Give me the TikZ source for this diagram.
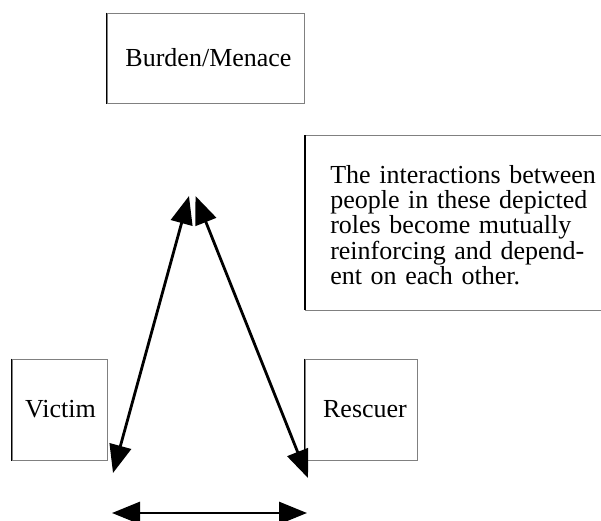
\documentclass[tikz,border=0pt]{standalone}
\usepackage{fontspec}
\setmainfont{Liberation Serif}
\usetikzlibrary{arrows.meta}
\definecolor{boxgray}{RGB}{128,128,128}
\begin{document}
\begin{tikzpicture}[x=0.75pt,y=-0.75pt,
  font=\fontsize{19.5}{19.1}\selectfont,
  rolebox/.style={draw=boxgray, line width=0.75pt, inner sep=0pt, align=center},
  leftedge/.style={draw=black, line width=0.9pt},
  arr/.style={line width=2.1pt, {Triangle[length=21pt,width=16.5pt]}-{Triangle[length=21pt,width=16.5pt]}}]
\useasboundingbox (0,0) rectangle (601,521);
% role boxes
\node[rolebox, minimum width=147.75pt, minimum height=67.5pt] (burden) at (205.5,58) {\hspace*{4.5pt}Burden/Menace};
\node[rolebox, minimum width=71.25pt, minimum height=75.75pt] (victim) at (59.5,409.5) {\hspace*{1.5pt}Victim};
\node[rolebox, minimum width=84pt, minimum height=75.75pt] (rescuer) at (361,409.5) {\hspace*{6pt}Rescuer};
\draw[leftedge] (burden.north west) -- (burden.south west);
\draw[leftedge] (victim.north west) -- (victim.south west);
\draw[leftedge] (rescuer.north west) -- (rescuer.south west);
% note box
\coordinate (ntl) at (305,135);
\coordinate (nbl) at (305,310);
\coordinate (ntr) at (601,135);
\coordinate (nbr) at (601,310);
\draw[draw=boxgray, line width=0.75pt] (ntl) -- (ntr);
\draw[draw=boxgray, line width=0.75pt] (nbl) -- (nbr);
\draw[leftedge] (ntl) -- (nbl);
\node[anchor=base west, inner sep=0pt, text width=200pt, align=left] (note) at (330,183)
  {\makebox[200pt][s]{The interactions between}\\
   \makebox[200pt][s]{people in these depicted}\\
   \makebox[200pt][s]{roles become mutually}\\
   \makebox[200pt][s]{reinforcing and depend-}\\
   ent on each other.};
% arrows
\coordinate (lt) at (189,196);
\coordinate (lb) at (113,473);
\coordinate (rt) at (195.5,196);
\coordinate (rb) at (308,478);
\coordinate (hl) at (112,513);
\coordinate (hr) at (307,513);
\draw[arr] (lt) -- (lb);
\draw[arr] (rt) -- (rb);
\draw[arr] (hl) -- (hr);
\end{tikzpicture}
\end{document}
